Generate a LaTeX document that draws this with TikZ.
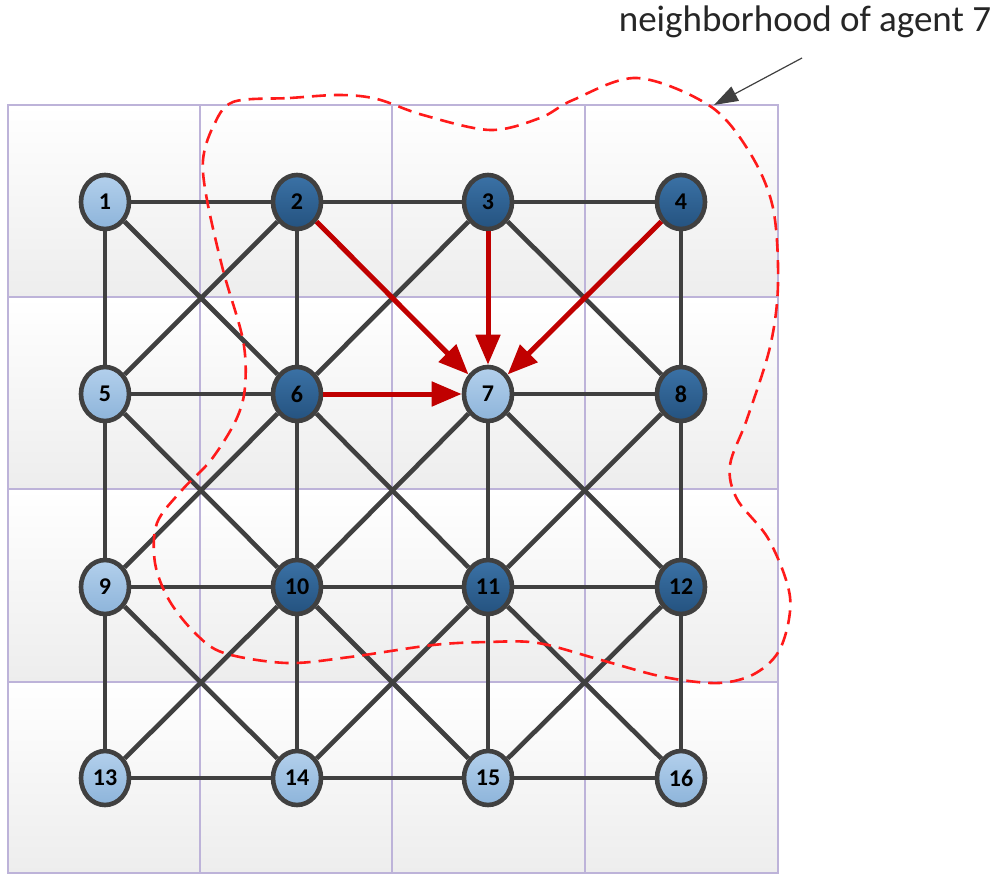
\documentclass[tikz,border=0pt]{standalone}
\usepackage{fontspec}
\setmainfont{Carlito}
\usepackage{xcolor}
\usepackage{tikz}
\usetikzlibrary{arrows.meta,shapes.geometric}

\definecolor{edgegray}{HTML}{404040}
\definecolor{flowred}{HTML}{C00000}
\definecolor{zonered}{HTML}{FF1A1A}
\definecolor{cellline}{HTML}{BDB3D9}
\definecolor{cellgray}{HTML}{EDEDED}
\definecolor{lighttop}{HTML}{B3D0EC}
\definecolor{lightbot}{HTML}{8DB4DA}
\definecolor{darktop}{HTML}{3B72A6}
\definecolor{darkbot}{HTML}{24527F}

\tikzset{
  agent/.style={ellipse,draw=edgegray,line width=2.3pt,minimum width=24pt,minimum height=27pt,
    inner sep=0pt,font=\bfseries\fontsize{12}{13}\selectfont},
  calm/.style={agent,top color=lighttop,bottom color=lightbot},
  busy/.style={agent,top color=darktop,bottom color=darkbot},
  link/.style={edgegray,line width=2.3pt},
  flow/.style={-{Triangle[length=15pt,width=12pt]},flowred,line width=2.5pt},
}

\begin{document}
\begin{tikzpicture}[x=0.5pt,y=-0.5pt]
  \useasboundingbox (0,0) rectangle (1000,877);
  % cells
  \foreach \xa/\xb in {8/200,200/392,392/585,585/778}
    \foreach \ya/\yb in {105/297,297/489,489/682,682/873}
      \shade[top color=white,bottom color=cellgray] (\xa,\ya) rectangle (\xb,\yb);
  \foreach \xa/\xb in {8/200,200/392,392/585,585/778}
    \foreach \ya/\yb in {105/297,297/489,489/682,682/873}
      \draw[cellline,line width=1.1pt] (\xa,\ya) rectangle (\xb,\yb);

  % agents
  \node[calm] (n1) at (105,202) {1};
  \node[busy] (n2) at (297,202) {2};
  \node[busy] (n3) at (488,202) {3};
  \node[busy] (n4) at (681,202) {4};
  \node[calm] (n5) at (105,394) {5};
  \node[busy] (n6) at (297,394) {6};
  \node[calm] (n7) at (488,394) {7};
  \node[busy] (n8) at (681,394) {8};
  \node[calm] (n9) at (105,587) {9};
  \node[busy] (n10) at (297,587) {10};
  \node[busy] (n11) at (488,587) {11};
  \node[busy] (n12) at (681,587) {12};
  \node[calm] (n13) at (105,778) {13};
  \node[calm] (n14) at (297,778) {14};
  \node[calm] (n15) at (488,778) {15};
  \node[calm] (n16) at (681,778) {16};

  % links
  \foreach \a/\b in {1/2,2/3,3/4,5/6,7/8,9/10,10/11,11/12,13/14,14/15,15/16,
                     1/5,5/9,9/13,2/6,6/10,10/14,7/11,11/15,4/8,8/12,12/16,
                     1/6,2/5,3/6,3/8,5/10,6/9,6/11,7/10,7/12,8/11,
                     9/14,10/13,10/15,11/14,11/16,12/15}
    \draw[link] (n\a) -- (n\b);
  \foreach \a in {2,3,4,6}
    \draw[flow] (n\a) -- (n7);

  % neighborhood
  \draw[zonered,line width=1.3pt,dash pattern=on 7pt off 4pt] plot[smooth cycle,tension=0.55] coordinates {
    (233,102) (290,98) (340,95) (377,99) (423,115) (490,130) (540,118) (573,100)
    (637,78) (710,106) (750,153) (773,208) (778,284) (770,347) (747,419) (730,465)
    (737,499) (769,540) (790,597) (781,647) (756,673) (719,683) (664,677) (601,660)
    (538,643) (488,642) (433,645) (350,657) (287,663) (224,653) (195,633) (169,600)
    (155,563) (157,523) (182,490) (211,460) (236,420) (245,387) (243,340) (223,270)
    (207,200) (203,160) (213,127)};

  \node[font=\fontsize{18.5}{21}\selectfont,text=black!85,anchor=base] (caption) at (805,32) {neighborhood of agent 7};
  \coordinate (tail) at (802,58);
  \coordinate (touch) at (714,105);
  \draw[-{Triangle[length=12pt,width=8pt]},edgegray,line width=0.6pt] (tail) -- (touch);
\end{tikzpicture}
\end{document}
